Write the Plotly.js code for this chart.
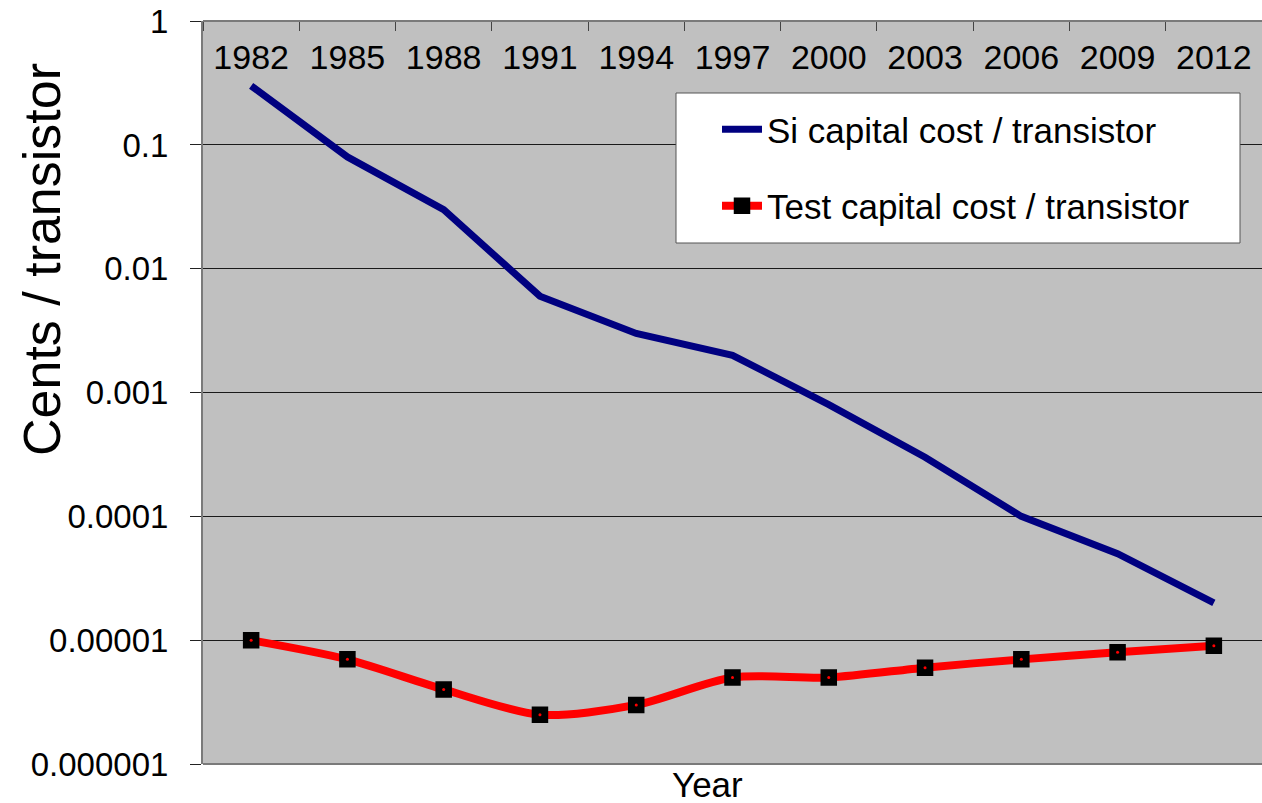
<!DOCTYPE html>
<html>
<head>
<meta charset="utf-8">
<script src="https://cdn.plot.ly/plotly-3.0.1.min.js"></script>
<style>html,body{margin:0;padding:0;background:#fff;}#chart{width:1262px;height:803px;}</style>
</head>
<body>
<div id="chart"></div>
<script>
const years = ['1982','1985','1988','1991','1994','1997','2000','2003','2006','2009','2012'];
const siCost = [0.3, 0.08, 0.03, 0.006, 0.003, 0.002, 0.0008, 0.0003, 0.0001, 0.00005, 0.00002];
const testCost = [0.00001, 0.000007, 0.000004, 0.0000025, 0.000003, 0.000005, 0.000005, 0.000006, 0.000007, 0.000008, 0.000009];
const yTickVals = [0.000001, 0.00001, 0.0001, 0.001, 0.01, 0.1, 1];
const yTickText = ['0.000001', '0.00001', '0.0001', '0.001', '0.01', '0.1', '1'];
const siName = 'Si capital cost / transistor';
const testName = 'Test capital cost / transistor';

const FONT = 'Liberation Sans, Arial, sans-serif';

const traces = [
  {
    x: years, y: siCost, name: siName, type: 'scatter', mode: 'lines',
    line: {color: '#000080', width: 7},
    legendgroup: 'a'
  },
  {
    x: years, y: testCost, name: testName, type: 'scatter', mode: 'lines+markers',
    line: {color: '#FF0000', width: 8, shape: 'spline', smoothing: 0.8},
    marker: {symbol: 'square', size: 14, color: '#000000', line: {color: '#000000', width: 2.5}},
    legendgroup: 'b'
  },
  {
    x: years, y: testCost, type: 'scatter', mode: 'markers', showlegend: false, hoverinfo: 'skip',
    marker: {symbol: 'circle', size: 3, color: '#FF0000'}
  }
];

const layout = {
  width: 1262, height: 803,
  margin: {l: 203, r: 0, t: 21, b: 39},
  paper_bgcolor: '#ffffff',
  plot_bgcolor: '#C0C0C0',
  font: {family: FONT, color: '#000000', size: 32},
  showlegend: true,
  xaxis: {
    type: 'category',
    range: [-0.5, 10.5],
    side: 'bottom',
    anchor: 'free',
    position: 1,
    showline: true, linecolor: '#7a7a7a', linewidth: 2,
    ticks: 'outside', tickson: 'boundaries', ticklen: 9, tickcolor: '#444', tickwidth: 1,
    ticklabelstandoff: 6,
    ticklabeloverflow: 'allow',
    automargin: false,
    tickfont: {family: FONT, size: 34, color: '#000'},
    showgrid: false, zeroline: false, fixedrange: true
  },
  yaxis: {
    type: 'log',
    range: [-6, 0.001],
    tickvals: yTickVals, ticktext: yTickText,
    ticks: 'outside', ticklen: 11, tickcolor: '#222', tickwidth: 1,
    ticklabelstandoff: 15,
    ticklabeloverflow: 'allow',
    automargin: false,
    tickfont: {family: FONT, size: 33, color: '#000'},
    showgrid: true, gridcolor: '#1a1a1a', gridwidth: 1,
    showline: true, linecolor: '#7a7a7a', linewidth: 2,
    zeroline: false, fixedrange: true
  },
  legend: {
    x: (717 - 203) / 1059, y: (764 - 100) / 743, xanchor: 'left', yanchor: 'top',
    bgcolor: 'rgba(0,0,0,0)', borderwidth: 0,
    font: {family: FONT, size: 35, color: '#000'},
    traceorder: 'grouped', tracegroupgap: 28,
    itemwidth: 40
  },
  shapes: [
    {
      type: 'rect', xref: 'paper', yref: 'paper', layer: 'above',
      x0: (676 - 203) / 1059, x1: (1240 - 203) / 1059,
      y0: (764 - 243) / 743, y1: (764 - 93) / 743,
      fillcolor: '#ffffff', line: {color: '#555555', width: 1}
    },
    {
      type: 'line', xref: 'paper', yref: 'paper', layer: 'above',
      x0: 0, x1: 1, y0: 0, y1: 0,
      line: {color: '#7a7a7a', width: 2}
    }
  ],
  annotations: [
    {
      text: 'Cents / transistor', textangle: -90,
      xref: 'paper', yref: 'paper',
      x: (42 - 203) / 1059, y: (764 - 260) / 743,
      xanchor: 'center', yanchor: 'middle', showarrow: false,
      font: {family: FONT, size: 52, color: '#000'}
    },
    {
      text: 'Year',
      xref: 'paper', yref: 'paper',
      x: (707 - 203) / 1059, y: (764 - 785) / 743,
      xanchor: 'center', yanchor: 'middle', showarrow: false,
      font: {family: FONT, size: 35, color: '#000'}
    }
  ]
};

Plotly.newPlot('chart', traces, layout, {displayModeBar: false, staticPlot: true});
</script>
</body>
</html>
